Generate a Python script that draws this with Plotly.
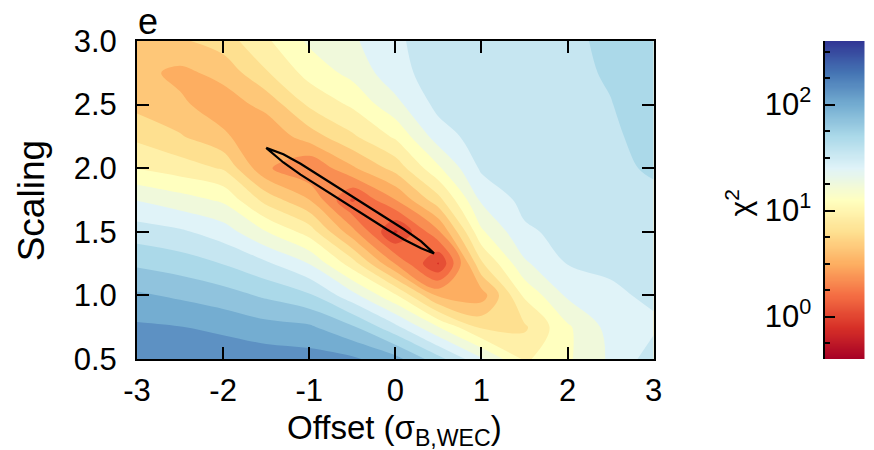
import numpy as np
import plotly.graph_objects as go

# Grid axes
offset = [-3.0, -2.5, -2.0, -1.5, -1.0, -0.5, 0.0, 0.5, 1.0, 1.5, 2.0, 2.5, 3.0]
scaling = [0.5, 0.75, 1.0, 1.25, 1.5, 1.75, 2.0, 2.25, 2.5, 2.75, 3.0]

# log10(chi^2) for each offset column, listed from scaling 0.5 up to 3.0
chi2_log_m30 = [2.22, 2.10, 1.95, 1.75, 1.55, 1.32, 1.02, 0.84, 0.68, 0.62, 0.70]
chi2_log_m25 = [2.20, 2.08, 1.90, 1.70, 1.50, 1.24, 0.95, 0.74, 0.60, 0.54, 0.70]
chi2_log_m20 = [2.18, 2.04, 1.84, 1.62, 1.40, 1.15, 0.86, 0.60, 0.50, 0.62, 0.80]
chi2_log_m15 = [2.16, 1.98, 1.75, 1.50, 1.18, 0.82, 0.45, 0.46, 0.62, 0.86, 1.00]
chi2_log_m10 = [2.14, 1.95, 1.65, 1.32, 0.96, 0.58, 0.28, 0.65, 0.90, 1.08, 1.20]
chi2_log_m05 = [2.10, 1.80, 1.38, 0.95, 0.48, 0.10, 0.55, 0.85, 1.05, 1.22, 1.30]
chi2_log_p00 = [1.98, 1.52, 1.05, 0.42, -0.05, 0.42, 0.78, 1.05, 1.28, 1.42, 1.45]
chi2_log_p05 = [1.68, 1.18, 0.55, -0.04, 0.40, 0.82, 1.15, 1.40, 1.52, 1.55, 1.55]
chi2_log_p10 = [1.35, 0.85, 0.50, 0.85, 1.15, 1.35, 1.50, 1.55, 1.55, 1.55, 1.55]
chi2_log_p15 = [1.00, 0.85, 1.05, 1.30, 1.45, 1.52, 1.55, 1.55, 1.55, 1.56, 1.57]
chi2_log_p20 = [1.15, 1.15, 1.35, 1.48, 1.52, 1.55, 1.55, 1.56, 1.58, 1.59, 1.60]
chi2_log_p25 = [1.35, 1.38, 1.45, 1.50, 1.53, 1.55, 1.58, 1.60, 1.62, 1.64, 1.65]
chi2_log_p30 = [1.55, 1.45, 1.50, 1.52, 1.55, 1.58, 1.65, 1.68, 1.70, 1.70, 1.70]

# Closed confidence contour (offset, scaling)
ci_offset = [-1.50, -1.30, -1.10, -0.90, -0.70, -0.50, -0.30, -0.10, 0.10, 0.30, 0.45,
             0.30, 0.10, -0.10, -0.30, -0.50, -0.70, -0.90, -1.10, -1.30, -1.50]
ci_scaling = [2.16, 2.11, 2.035, 1.95, 1.865, 1.78, 1.695, 1.61, 1.52, 1.425, 1.33,
              1.37, 1.44, 1.52, 1.605, 1.69, 1.78, 1.865, 1.95, 2.045, 2.16]

# Tick values and labels
x_tick_vals = [-3, -2, -1, 0, 1, 2, 3]
x_tick_labels = ["-3", "-2", "-1", "0", "1", "2", "3"]
y_tick_vals = [0.5, 1.0, 1.5, 2.0, 2.5, 3.0]
y_tick_labels = ["0.5", "1.0", "1.5", "2.0", "2.5", "3.0"]
cbar_range = [-0.4, 2.6]
cbar_tick_vals = [0, 1, 2]
cbar_tick_labels = ["10<sup>0</sup>", "10<sup>1</sup>", "10<sup>2</sup>"]
cbar_minor_vals = [-0.25, 0.25, 0.5, 0.75, 1.25, 1.5, 1.75, 2.25, 2.5]

columns = [chi2_log_m30, chi2_log_m25, chi2_log_m20, chi2_log_m15, chi2_log_m10,
           chi2_log_m05, chi2_log_p00, chi2_log_p05, chi2_log_p10, chi2_log_p15,
           chi2_log_p20, chi2_log_p25, chi2_log_p30]
log_chi2 = np.array(columns).T  # rows follow scaling, columns follow offset

rdylbu = [[0.0, "#a50026"], [0.1, "#d73027"], [0.2, "#f46d43"], [0.3, "#fdae61"],
          [0.4, "#fee090"], [0.5, "#ffffbf"], [0.6, "#e0f3f8"], [0.7, "#abd9e9"],
          [0.8, "#74add1"], [0.9, "#4575b4"], [1.0, "#313695"]]

FONT = "Liberation Sans, Arial, Helvetica, sans-serif"
W, H = 874, 450
ML, MT, MB = 137, 41, 91
plot_w = W - ML
main_right = 660
bar_left = 833

step = 0.15
fig = go.Figure()
fig.add_trace(go.Contour(
    x=offset, y=scaling, z=log_chi2,
    colorscale=rdylbu,
    contours=dict(start=cbar_range[0] + step / 2, end=cbar_range[1] - step / 2 + 0.005,
                  size=step, coloring="fill", showlines=False),
    line=dict(width=0, smoothing=1.0),
    showscale=False, hoverinfo="skip", xaxis="x", yaxis="y",
))
fig.add_trace(go.Scatter(
    x=ci_offset, y=ci_scaling, mode="lines",
    line=dict(color="black", width=2.2), showlegend=False, hoverinfo="skip",
    xaxis="x", yaxis="y",
))

# Colour key drawn on its own axes
cb_levels = np.linspace(cbar_range[0], cbar_range[1], 301)
fig.add_trace(go.Heatmap(
    x=[0, 1], y=cb_levels, z=np.column_stack([cb_levels, cb_levels]),
    colorscale=rdylbu, zmin=cbar_range[0], zmax=cbar_range[1],
    zsmooth="best", showscale=False, hoverinfo="skip", xaxis="x2", yaxis="y2",
))

axis_common = dict(showline=True, linecolor="black", linewidth=2, ticks="inside",
                   tickwidth=2, tickcolor="black", ticklen=12, showgrid=False,
                   zeroline=False, tickfont=dict(family=FONT, size=31, color="black"))

fig.update_layout(
    width=W, height=H,
    margin=dict(l=ML, r=0, t=MT, b=MB),
    paper_bgcolor="white", plot_bgcolor="white",
    showlegend=False,
    xaxis=dict(domain=[0, (main_right - ML) / plot_w], range=[-3, 3],
               tickmode="array", tickvals=x_tick_vals, ticktext=x_tick_labels,
               mirror="ticks", ticklabelstandoff=3, anchor="y", **axis_common),
    yaxis=dict(domain=[0, 1], range=[0.5, 3.0], tickmode="array",
               tickvals=y_tick_vals, ticktext=y_tick_labels, mirror="ticks",
               ticklabelstandoff=12, anchor="x", **axis_common),
    xaxis2=dict(domain=[(bar_left - ML) / plot_w, 1], range=[-0.5, 1.5],
                visible=False, anchor="y2"),
    yaxis2=dict(domain=[0, 1], range=cbar_range, anchor="x2", side="left",
                showline=True, linecolor="black", linewidth=2, ticks="inside",
                tickwidth=2, tickcolor="black", ticklen=10, showgrid=False,
                zeroline=False, tickmode="array", tickvals=cbar_tick_vals,
                ticktext=cbar_tick_labels, ticklabelstandoff=5,
                tickfont=dict(family=FONT, size=31, color="black"),
                minor=dict(tickmode="array", tickvals=cbar_minor_vals, ticks="inside",
                           ticklen=5, tickwidth=2, tickcolor="black", showgrid=False)),
)

def px_x(p):
    return (p - ML) / plot_w

def px_y(p):
    return (H - MB - p) / (H - MT - MB)

annotations = [
    dict(text="e", x=px_x(148), y=px_y(21), font=dict(family=FONT, size=36)),
    dict(text="Scaling", x=px_x(30), y=px_y(201), textangle=-90,
         font=dict(family=FONT, size=37)),
    dict(text="Offset (σ<sub>B,WEC</sub>)", x=px_x(398), y=px_y(430),
         font=dict(family=FONT, size=33)),
    dict(text="χ<sup>2</sup>", x=px_x(746), y=px_y(203), textangle=-90,
         font=dict(family=FONT, size=30)),
]
for a in annotations:
    fig.add_annotation(xref="paper", yref="paper", showarrow=False,
                       xanchor="center", yanchor="middle", **a)
fig.update_annotations(font_color="black")

fig.write_html("out.html")
